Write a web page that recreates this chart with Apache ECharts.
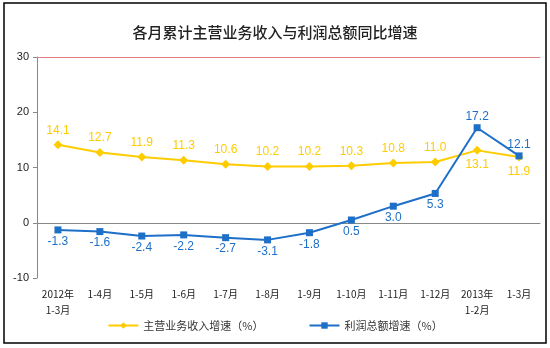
<!DOCTYPE html>
<html><head><meta charset="utf-8">
<script src="https://cdn.jsdelivr.net/npm/echarts@6/dist/echarts.min.js"></script>
<style>html,body{margin:0;padding:0;background:#fff}#c{width:550px;height:348px}</style>
</head><body><div id="c"></div>
<script>
const categories = ['2012年\n1-3月','1-4月','1-5月','1-6月','1-7月','1-8月','1-9月','1-10月','1-11月','1-12月','2013年\n1-2月','1-3月'];
const revenueGrowth = [14.1,12.7,11.9,11.3,10.6,10.2,10.2,10.3,10.8,11.0,13.1,11.9];
const profitGrowth = [-1.3,-1.6,-2.4,-2.2,-2.7,-3.1,-1.8,0.5,3.0,5.3,17.2,12.1];
const yTicks = {min:-10,max:30,interval:10};
const seriesNames = ['主营业务收入增速（%）','利润总额增速（%）'];
const titleText = '各月累计主营业务收入与利润总额同比增速';

const yellow = '#FFCC00', blue = '#1E6FC8';
const font = 'Arial, "Liberation Sans", "Noto Sans CJK SC", sans-serif';
const chart = echarts.init(document.getElementById('c'));
chart.setOption({
  animation:false,
  title:{text:titleText,left:'center',top:20,textStyle:{fontSize:15,fontWeight:500,color:'#222',fontFamily:'"Noto Sans CJK SC", sans-serif'}},
  graphic:[{type:'rect',shape:{x:4,y:3,width:542,height:340},style:{fill:'none',stroke:'#000',lineWidth:1.5},silent:true}],
  legend:{bottom:12,left:'center',itemGap:45,itemWidth:30,itemHeight:8,
    textStyle:{fontSize:11,color:'#333',fontFamily:'"Noto Sans CJK SC", sans-serif'},
    data:[seriesNames[0],seriesNames[1]]},
  grid:{left:37,right:10,top:57,bottom:70},
  xAxis:[{type:'category',data:categories,boundaryGap:true,
    axisLine:{lineStyle:{color:'#888'}},
    axisTick:{inside:true,length:4,lineStyle:{color:'#888'}},
    axisLabel:{fontSize:10,color:'#222',margin:8,interval:0,lineHeight:16,fontFamily:'"Noto Sans CJK SC", sans-serif'}},
    {type:'category',data:categories,position:'top',axisLine:{show:true,lineStyle:{color:'#E08080'}},axisTick:{show:false},axisLabel:{show:false}}],
  yAxis:{type:'value',min:yTicks.min,max:yTicks.max,interval:yTicks.interval,
    axisLine:{show:true,lineStyle:{color:'#888'}},
    axisTick:{show:true,length:4,lineStyle:{color:'#888'}},
    splitLine:{show:false},
    axisLabel:{fontSize:11,color:'#222',margin:8,fontFamily:font}},
  series:[
    {name:seriesNames[0],type:'line',data:revenueGrowth.map((v,i)=>({value:v,label:{position:i>=10?'bottom':'top'}})),
     symbol:'diamond',symbolSize:9,itemStyle:{color:yellow},lineStyle:{color:yellow,width:2},
     label:{show:true,formatter:p=>p.value.toFixed(1),color:yellow,fontSize:12,distance:4,fontFamily:font}},
    {name:seriesNames[1],type:'line',data:profitGrowth.map((v,i)=>({value:v,label:{position:i>=10?'top':'bottom'}})),
     symbol:'rect',symbolSize:7,itemStyle:{color:blue},lineStyle:{color:blue,width:2},
     label:{show:true,formatter:p=>p.value.toFixed(1),color:blue,fontSize:12,distance:2,fontFamily:font}}
  ]
});
</script></body></html>
